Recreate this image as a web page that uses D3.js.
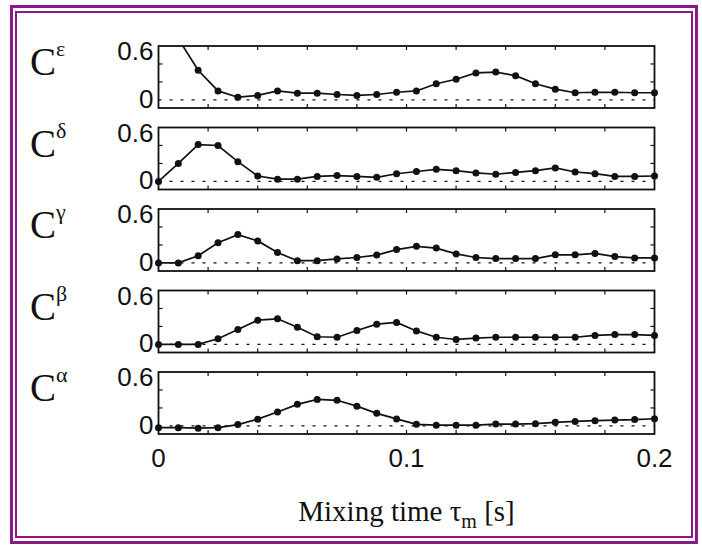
<!DOCTYPE html>
<html>
<head>
<meta charset="utf-8">
<script src="https://cdn.jsdelivr.net/npm/d3@7/dist/d3.min.js"></script>
<style>
  body { margin: 0; background: #fff; }
</style>
</head>
<body>
<div id="chart"></div>
<script>
// mixing time points [s]
const mixTime = [0, 0.008, 0.016, 0.024, 0.032, 0.04, 0.048, 0.056, 0.064, 0.072, 0.08, 0.088, 0.096,
  0.104, 0.112, 0.12, 0.128, 0.136, 0.144, 0.152, 0.16, 0.168, 0.176, 0.184, 0.192, 0.2];

const cEpsilon = [1.0, 0.68, 0.33, 0.10, 0.03, 0.05, 0.10, 0.075, 0.075, 0.06, 0.05, 0.06, 0.085,
  0.10, 0.18, 0.23, 0.30, 0.31, 0.27, 0.18, 0.12, 0.08, 0.085, 0.085, 0.08, 0.08];
const cDelta = [0, 0.2, 0.41, 0.40, 0.22, 0.06, 0.025, 0.025, 0.055, 0.065, 0.055, 0.045, 0.085,
  0.11, 0.135, 0.12, 0.095, 0.08, 0.1, 0.12, 0.15, 0.105, 0.086, 0.056, 0.056, 0.06];
const cGamma = [0, 0, 0.08, 0.225, 0.315, 0.245, 0.115, 0.025, 0.025, 0.044, 0.06, 0.087, 0.148,
  0.185, 0.165, 0.10, 0.06, 0.048, 0.048, 0.048, 0.09, 0.09, 0.105, 0.07, 0.055, 0.055];
const cBeta = [0, 0, 0, 0.063, 0.165, 0.27, 0.285, 0.19, 0.085, 0.08, 0.155, 0.225, 0.245,
  0.15, 0.08, 0.055, 0.07, 0.08, 0.08, 0.08, 0.08, 0.08, 0.1, 0.11, 0.11, 0.1];
const cAlpha = [-0.02, -0.02, -0.025, -0.02, 0.015, 0.075, 0.155, 0.24, 0.295, 0.285, 0.22, 0.14, 0.078,
  0.018, 0.008, 0.008, 0.008, 0.02, 0.02, 0.025, 0.04, 0.05, 0.058, 0.065, 0.07, 0.08];

const panelLetters = ["ε", "δ", "γ", "β", "α"];
const panelSeries = [cEpsilon, cDelta, cGamma, cBeta, cAlpha];
const yTickLabels = ["0", "0.6"];
const xTickLabels = ["0", "0.1", "0.2"];
const xTitle = "Mixing time ";

const W = 702, H = 547;
const left = 158.5, right = 654.5;
const panelH = 62, panelStep = 81.5, firstTop = 46;
const ink = "#111";

const svg = d3.select("#chart").append("svg")
  .attr("width", W)
  .attr("height", H);

// double purple frame
svg.append("rect")
  .attr("x", 11.5).attr("y", 6.5)
  .attr("width", 685).attr("height", 536)
  .attr("fill", "none").attr("stroke", "#8a1a88").attr("stroke-width", 3);
svg.append("rect")
  .attr("x", 16).attr("y", 12)
  .attr("width", 676).attr("height", 525)
  .attr("fill", "none").attr("stroke", "#8a1a88").attr("stroke-width", 2);

const xScale = d3.scaleLinear().domain([0, 0.2]).range([left, right]);
const minorTicks = d3.range(0.02, 0.2, 0.02);

panelSeries.forEach((series, i) => {
  const top = firstTop + i * panelStep;
  const yScale = d3.scaleLinear().domain([-0.09, 0.6]).range([top + panelH, top]);
  const g = svg.append("g");

  g.append("clipPath").attr("id", "clip" + i)
    .append("rect")
    .attr("x", left).attr("y", top)
    .attr("width", right - left).attr("height", panelH);

  // zero reference
  g.append("line")
    .attr("x1", left).attr("x2", right)
    .attr("y1", yScale(0)).attr("y2", yScale(0))
    .attr("stroke", ink).attr("stroke-width", 1.3)
    .attr("stroke-dasharray", "3,8");

  // ticks on the frame
  const tickLen = 4;
  minorTicks.forEach(t => {
    g.append("line")
      .attr("x1", xScale(t)).attr("x2", xScale(t))
      .attr("y1", top).attr("y2", top + tickLen)
      .attr("stroke", ink).attr("stroke-width", 1.2);
    g.append("line")
      .attr("x1", xScale(t)).attr("x2", xScale(t))
      .attr("y1", top + panelH).attr("y2", top + panelH - tickLen)
      .attr("stroke", ink).attr("stroke-width", 1.2);
  });
  [0.2, 0.4].forEach(v => {
    g.append("line")
      .attr("x1", left).attr("x2", left + tickLen)
      .attr("y1", yScale(v)).attr("y2", yScale(v))
      .attr("stroke", ink).attr("stroke-width", 1.2);
    g.append("line")
      .attr("x1", right).attr("x2", right - tickLen)
      .attr("y1", yScale(v)).attr("y2", yScale(v))
      .attr("stroke", ink).attr("stroke-width", 1.2);
  });

  const line = d3.line()
    .x((d, j) => xScale(mixTime[j]))
    .y(d => yScale(d));

  g.append("path")
    .datum(series)
    .attr("clip-path", `url(#clip${i})`)
    .attr("fill", "none")
    .attr("stroke", ink)
    .attr("stroke-width", 1.7)
    .attr("d", line);

  g.selectAll("circle.pt")
    .data(series.map((v, j) => ({ t: mixTime[j], v })).filter(d => d.v <= 0.6))
    .enter().append("circle")
    .attr("class", "pt")
    .attr("cx", d => xScale(d.t))
    .attr("cy", d => yScale(d.v))
    .attr("r", 3.5)
    .attr("fill", ink);

  g.append("rect")
    .attr("x", left).attr("y", top)
    .attr("width", right - left).attr("height", panelH)
    .attr("fill", "none").attr("stroke", ink).attr("stroke-width", 1.8);

  // y tick labels
  g.append("text")
    .attr("x", left - 5).attr("y", yScale(0.6) + 14)
    .attr("text-anchor", "end")
    .style("font", "26px 'Liberation Sans', Arial, sans-serif")
    .attr("fill", ink)
    .text(yTickLabels[1]);
  g.append("text")
    .attr("x", left - 5).attr("y", yScale(0) + 8)
    .attr("text-anchor", "end")
    .style("font", "26px 'Liberation Sans', Arial, sans-serif")
    .attr("fill", ink)
    .text(yTickLabels[0]);

  // panel label C with greek superscript
  const lab = g.append("text")
    .attr("x", 30).attr("y", top + 29)
    .style("font", "39px 'Liberation Serif', 'Times New Roman', serif")
    .attr("fill", ink);
  lab.append("tspan").text("C");
  lab.append("tspan")
    .attr("dy", -19)
    .style("font-size", "22px")
    .text(panelLetters[i]);
});

// x tick labels under last panel
const lastBottom = firstTop + 4 * panelStep + panelH;
svg.selectAll("text.xt")
  .data(xTickLabels)
  .enter().append("text")
  .attr("class", "xt")
  .attr("x", d => xScale(+d))
  .attr("y", lastBottom + 33)
  .attr("text-anchor", "middle")
  .style("font", "26px 'Liberation Sans', Arial, sans-serif")
  .attr("fill", ink)
  .text(d => d);

const title = svg.append("text")
  .attr("x", xScale(0.1)).attr("y", 521)
  .attr("text-anchor", "middle")
  .style("font", "29px 'Liberation Serif', 'Times New Roman', serif")
  .attr("fill", ink);
title.append("tspan").text(xTitle + "τ");
title.append("tspan").attr("dy", 7).style("font-size", "20px").text("m");
title.append("tspan").attr("dy", -7).text(" [s]");
</script>
</body>
</html>
